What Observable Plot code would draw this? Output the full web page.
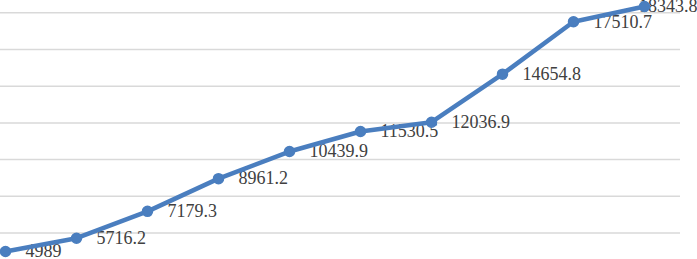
<!DOCTYPE html>
<html>
<head>
<meta charset="utf-8">
<script src="https://cdn.jsdelivr.net/npm/d3@7"></script>
<script src="https://cdn.jsdelivr.net/npm/@observablehq/plot@0.6"></script>
<style>
html,body{margin:0;padding:0;background:#fff;}
svg text{font-family:"Liberation Serif","Times New Roman",serif !important;}
</style>
</head>
<body>
<div id="chart"></div>
<script>
const categories = [1, 2, 3, 4, 5, 6, 7, 8, 9, 10];
const values = [4989, 5716.2, 7179.3, 8961.2, 10439.9, 11530.5, 12036.9, 14654.8, 17510.7, 18343.8];
const gridTicks = [6000, 8000, 10000, 12000, 14000, 16000, 18000];

const data = categories.map((c, i) => ({c, v: values[i], last: i === categories.length - 1}));
const blue = "#4a7ebf";
const serif = "Liberation Serif";

const chart = Plot.plot({
  width: 697,
  height: 259,
  marginLeft: 0,
  marginRight: 17,
  marginTop: 0,
  marginBottom: 0,
  x: {type: "linear", domain: [1, 10], range: [5, 644], axis: null},
  y: {domain: [4556, 18670], axis: null},
  style: {fontFamily: serif, background: "#fff"},
  marks: [
    Plot.ruleY(gridTicks, {stroke: "#d9d9d9", strokeWidth: 1.5}),
    Plot.text(data.filter(d => !d.last), {x: "c", y: "v", text: d => String(d.v), textAnchor: "start", dx: 20, dy: 0, fontSize: 18, fontFamily: serif, fill: "#404040"}),
    Plot.text(data.filter(d => d.last), {x: "c", y: "v", text: d => String(d.v), textAnchor: "end", dx: 53, dy: 0, fontSize: 18, fontFamily: serif, fill: "#404040"}),
    Plot.line(data, {x: "c", y: "v", stroke: blue, strokeWidth: 4.5}),
    Plot.dot(data, {x: "c", y: "v", r: 5, fill: blue, stroke: blue})
  ]
});
document.getElementById("chart").append(chart);
</script>
</body>
</html>
